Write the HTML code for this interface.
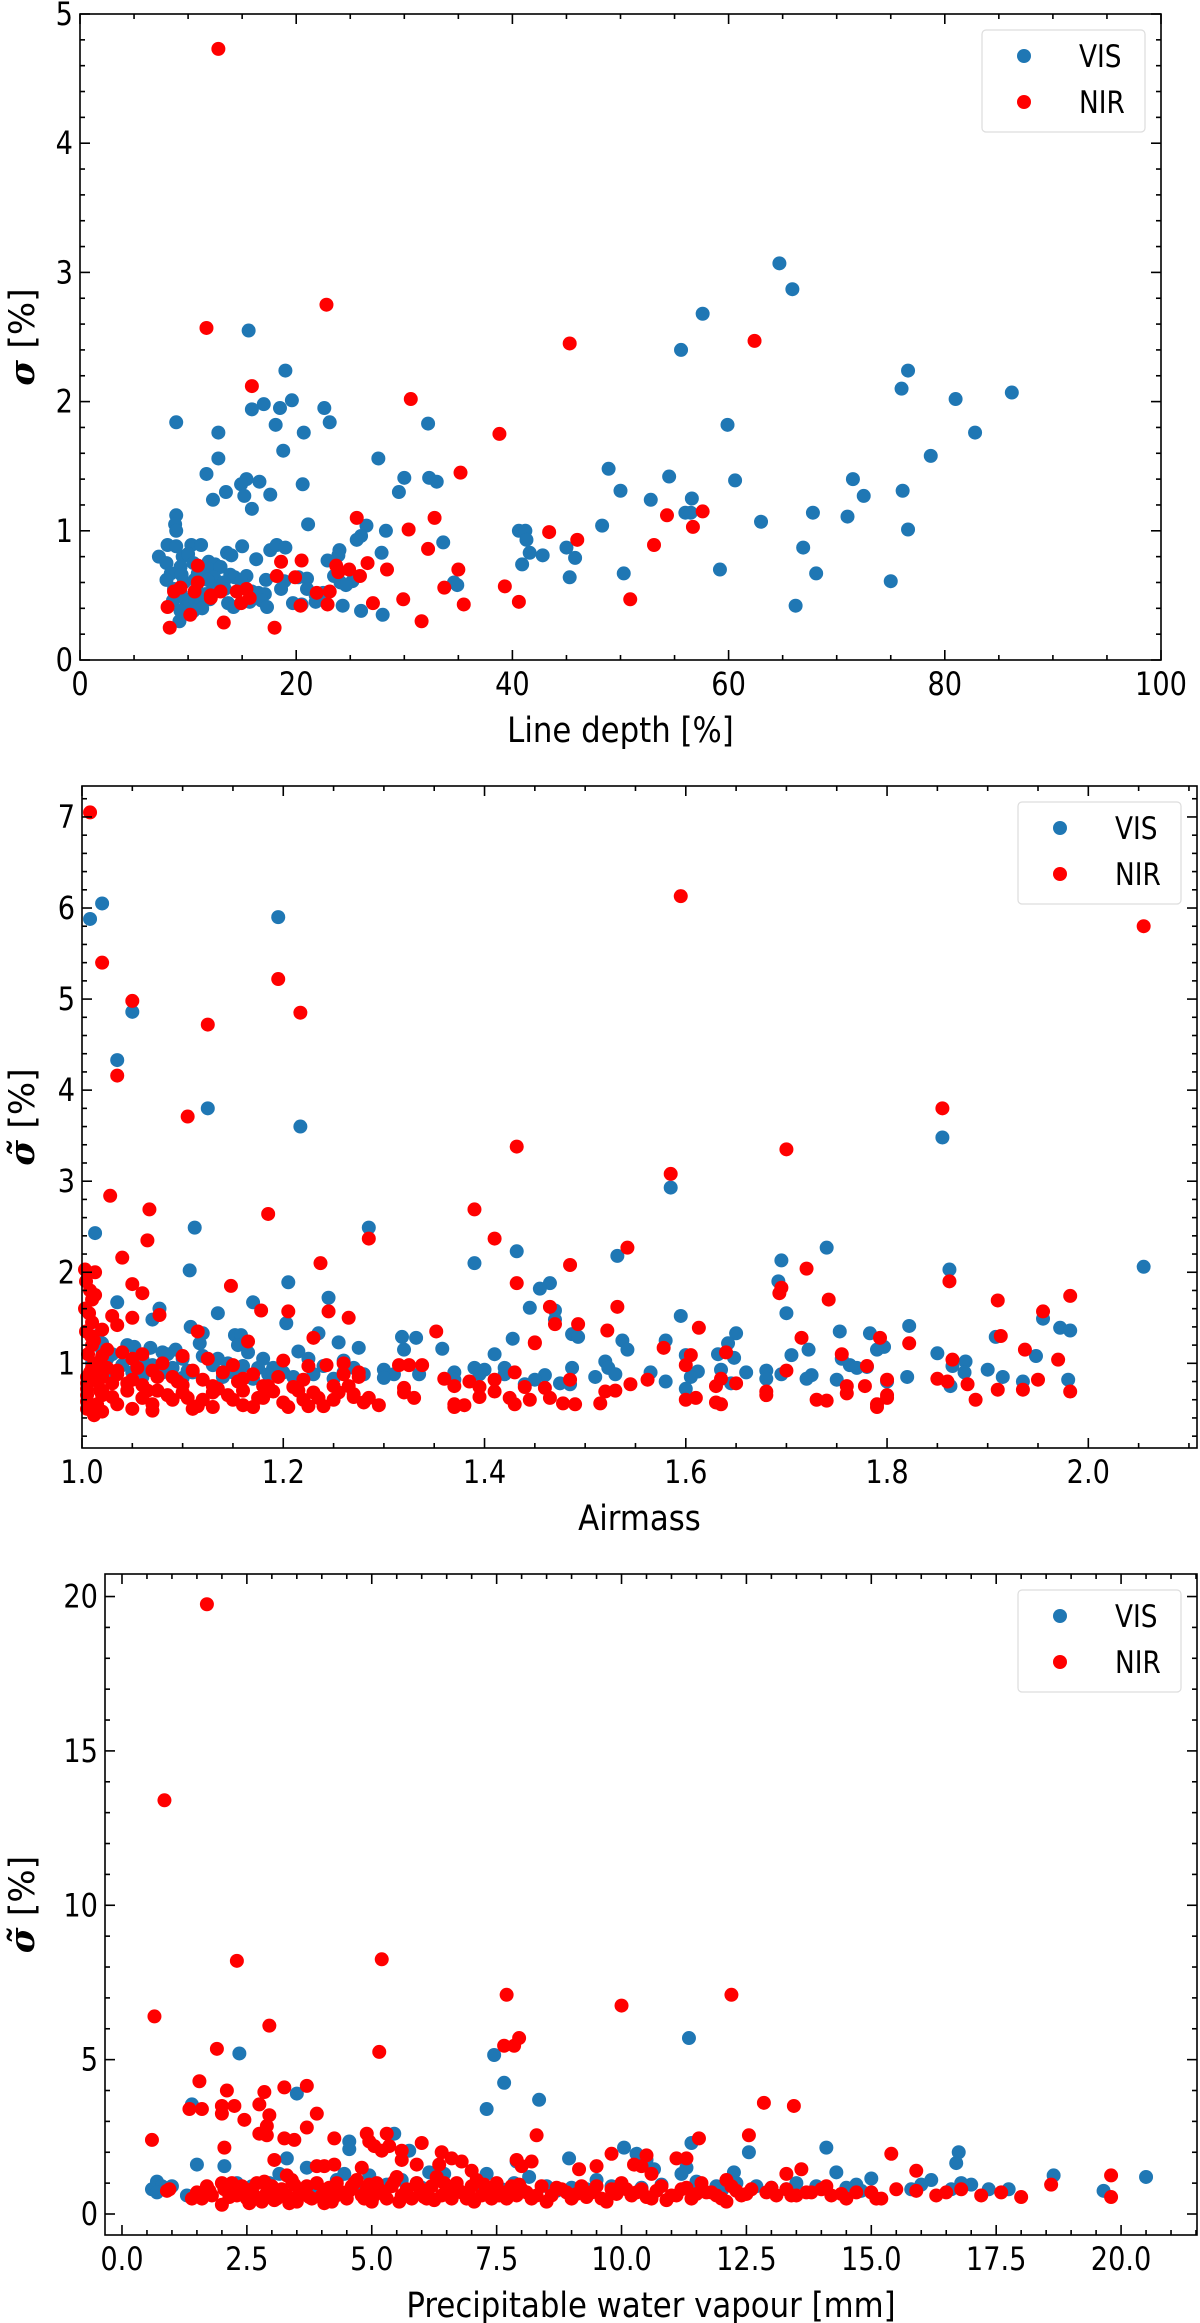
<!DOCTYPE html>
<html><head><meta charset="utf-8">
<style>
html,body{margin:0;padding:0;background:#fff;}
svg{display:block;font-family:"DejaVu Sans","Liberation Sans",sans-serif;}
</style></head>
<body>
<svg id="fig" width="1200" height="2323" viewBox="0 0 1200 2323" xmlns="http://www.w3.org/2000/svg"></svg>
<script>
// ---------- Panel 1: Line depth ----------
const p1VisX=[64.7,65.9,57.6,55.6,15.6,19.0,76.6,76.0,81.0,86.2,19.6,17.0,15.9,18.5,22.6,8.9,18.1,23.1,32.2,59.9,12.8,20.7,82.8,18.8,78.7,12.8,27.6,11.7,48.9,54.5,15.4,16.6,14.9,20.6,30.0,32.3,33.0,60.6,71.5,13.5,17.6,15.2,29.5,50.0,72.5,76.1,12.3,52.8,56.6,15.9,56.0,56.5,67.8,71.0,8.9,8.8,21.1,26.5,48.3,63.0,8.9,28.3,40.6,41.2,76.6,26.0,25.6,33.6,41.3,8.1,10.3,11.2,15.0,17.6,18.2,19.0,24.0,8.9,13.6,14.0,27.9,41.6,42.8,45.0,66.9,7.3,9.5,10.0,16.3,23.9,22.9,45.8,40.9,8.0,9.3,10.5,11.9,12.5,12.0,13.0,8.4,9.4,10.9,12.4,13.9,14.3,15.4,20.2,21.0,23.5,59.2,50.3,68.1,8.0,9.6,10.6,11.8,13.3,14.9,17.2,18.9,24.1,25.2,34.6,34.9,45.3,75.0,8.7,9.3,10.8,11.6,12.3,13.4,15.9,16.5,17.1,18.6,21.0,21.8,22.5,24.6,8.6,9.7,10.0,10.7,11.2,12.0,13.7,14.2,15.7,16.8,17.3,19.7,21.8,24.3,9.2,9.3,10.5,11.3,26.0,28.0,66.2,20.5,22.3];
const p1VisY=[3.07,2.87,2.68,2.40,2.55,2.24,2.24,2.10,2.02,2.07,2.01,1.98,1.94,1.95,1.95,1.84,1.82,1.84,1.83,1.82,1.76,1.76,1.76,1.62,1.58,1.56,1.56,1.44,1.48,1.42,1.40,1.38,1.36,1.36,1.41,1.41,1.38,1.39,1.40,1.30,1.28,1.27,1.30,1.31,1.27,1.31,1.24,1.24,1.25,1.17,1.14,1.14,1.14,1.11,1.12,1.05,1.05,1.04,1.04,1.07,1.00,1.00,1.00,1.00,1.01,0.96,0.93,0.91,0.93,0.89,0.89,0.89,0.88,0.85,0.89,0.87,0.85,0.88,0.83,0.81,0.83,0.83,0.81,0.87,0.87,0.80,0.80,0.82,0.78,0.81,0.77,0.79,0.74,0.75,0.72,0.75,0.76,0.74,0.70,0.72,0.67,0.66,0.67,0.64,0.66,0.64,0.65,0.64,0.63,0.65,0.70,0.67,0.67,0.62,0.60,0.62,0.62,0.60,0.61,0.62,0.61,0.60,0.61,0.60,0.58,0.64,0.61,0.55,0.52,0.54,0.51,0.55,0.55,0.53,0.52,0.51,0.55,0.55,0.50,0.52,0.58,0.46,0.47,0.43,0.46,0.44,0.47,0.44,0.41,0.45,0.46,0.41,0.44,0.45,0.42,0.30,0.38,0.38,0.40,0.38,0.35,0.42,0.43,0.47];
const p1NirX=[12.8,22.8,11.7,45.3,62.4,15.9,30.6,38.8,35.2,25.6,32.8,54.3,57.6,56.7,30.4,43.4,46.0,53.1,32.2,18.6,20.5,26.6,10.9,23.7,24.9,23.9,28.4,35.0,18.2,19.9,25.9,10.9,21.9,23.1,8.7,9.3,10.6,12.1,13.0,14.5,15.4,15.7,14.9,12.1,33.7,39.3,8.1,20.4,22.9,27.1,29.9,35.5,40.6,50.9,10.2,13.3,8.3,18.0,31.6];
const p1NirY=[4.73,2.75,2.57,2.45,2.47,2.12,2.02,1.75,1.45,1.10,1.10,1.12,1.15,1.03,1.01,0.99,0.93,0.89,0.86,0.76,0.77,0.75,0.73,0.73,0.70,0.68,0.70,0.70,0.65,0.64,0.65,0.60,0.52,0.53,0.53,0.56,0.53,0.50,0.53,0.53,0.55,0.48,0.44,0.48,0.56,0.57,0.41,0.42,0.43,0.44,0.47,0.43,0.45,0.47,0.35,0.29,0.25,0.25,0.30];
const p1XTicks=[0,20,40,60,80,100];
const p1YTicks=[0,1,2,3,4,5];

// ---------- Panel 2: Airmass ----------
const p2VisX=[1.008,1.02,1.195,1.05,1.035,1.125,1.217,1.855,1.585,1.013,1.112,1.285,1.74,1.432,1.532,1.695,1.39,1.107,1.862,2.055,1.205,1.692,1.465,1.455,1.035,1.17,1.245,1.077,1.445,1.47,1.135,1.07,1.7,1.595,1.955,1.108,1.203,1.47,1.753,1.783,1.822,1.972,1.982,1.65,1.642,1.12,1.152,1.158,1.235,1.318,1.332,1.487,1.493,1.58,1.537,1.428,1.358,1.02,1.052,1.068,1.093,1.117,1.155,1.255,1.275,1.32,1.542,1.797,1.79,1.908,1.85,1.02,1.03,1.08,1.12,1.165,1.215,1.41,1.705,1.722,1.632,1.648,1.948,1.06,1.1,1.135,1.18,1.225,1.26,1.52,1.6,1.755,1.763,1.878,1.01,1.04,1.07,1.09,1.13,1.16,1.19,1.24,1.27,1.3,1.39,1.4,1.42,1.487,1.523,1.612,1.635,1.68,1.77,1.78,1.865,1.9,1.01,1.05,1.08,1.11,1.15,1.2,1.23,1.26,1.28,1.31,1.335,1.37,1.395,1.42,1.46,1.53,1.565,1.605,1.66,1.695,1.725,1.75,1.82,1.877,1.915,1.03,1.06,1.1,1.14,1.17,1.21,1.25,1.3,1.45,1.51,1.58,1.68,1.72,1.8,1.98,1.44,1.475,1.485,1.6,1.645,1.863,1.935,1.37,1.015,1.025,1.045,1.065,1.085,1.105,1.145,1.175,1.185];
const p2VisY=[5.88,6.05,5.9,4.86,4.33,3.8,3.6,3.48,2.93,2.43,2.49,2.49,2.27,2.23,2.18,2.13,2.1,2.02,2.03,2.06,1.89,1.9,1.88,1.82,1.67,1.67,1.72,1.6,1.61,1.58,1.55,1.48,1.55,1.52,1.49,1.4,1.44,1.48,1.35,1.33,1.41,1.39,1.36,1.33,1.22,1.33,1.31,1.31,1.33,1.29,1.28,1.32,1.29,1.25,1.25,1.27,1.16,1.22,1.18,1.17,1.15,1.22,1.2,1.23,1.17,1.15,1.15,1.18,1.15,1.29,1.11,1.15,1.1,1.12,1.08,1.12,1.13,1.1,1.09,1.15,1.1,1.06,1.08,1.05,1.05,1.05,1.05,1.05,1.03,1.02,1.09,1.05,0.98,1.02,1.0,0.98,0.98,0.95,0.98,0.97,0.95,0.97,0.95,0.93,0.95,0.93,0.95,0.95,0.95,0.91,0.93,0.92,0.95,0.96,0.97,0.93,0.92,0.9,0.9,0.9,0.9,0.9,0.88,0.9,0.88,0.88,0.88,0.9,0.88,0.88,0.87,0.88,0.9,0.85,0.9,0.88,0.87,0.82,0.85,0.9,0.85,0.85,0.85,0.84,0.85,0.83,0.85,0.83,0.84,0.82,0.85,0.8,0.83,0.83,0.8,0.82,0.77,0.78,0.77,0.72,0.78,0.75,0.8,0.82,1.3,1.05,1.2,0.95,1.1,0.92,1.0,0.95,0.88];
const p2NirX=[1.008,1.595,2.055,1.02,1.195,1.05,1.217,1.125,1.035,1.855,1.105,1.432,1.7,1.585,1.028,1.067,1.39,1.185,1.41,1.285,1.065,1.542,1.04,1.237,1.485,1.72,1.003,1.013,1.432,1.862,1.05,1.148,1.695,1.693,1.06,1.008,1.013,1.742,1.91,1.982,1.178,1.205,1.245,1.532,1.465,1.955,1.077,1.03,1.05,1.265,1.47,1.493,1.613,1.115,1.352,1.522,1.02,1.01,1.035,1.793,1.913,1.23,1.165,1.45,1.45,1.715,1.822,1.578,1.937,1.755,1.64,1.605,1.865,1.97,1.01,1.025,1.04,1.06,1.1,1.125,1.2,1.26,1.02,1.05,1.08,1.15,1.225,1.243,1.315,1.325,1.338,1.6,1.78,1.7,1.01,1.035,1.07,1.11,1.14,1.17,1.195,1.26,1.275,1.43,1.005,1.02,1.05,1.09,1.12,1.16,1.22,1.275,1.36,1.385,1.41,1.485,1.562,1.635,1.65,1.85,1.8,1.86,1.95,1.005,1.03,1.06,1.1,1.13,1.18,1.21,1.25,1.32,1.37,1.395,1.44,1.46,1.545,1.63,1.76,1.778,1.88,1.005,1.02,1.045,1.075,1.1,1.13,1.16,1.19,1.23,1.27,1.32,1.41,1.52,1.53,1.68,1.76,1.8,1.91,1.935,1.982,1.005,1.03,1.06,1.09,1.12,1.15,1.18,1.22,1.25,1.27,1.33,1.395,1.425,1.445,1.465,1.61,1.6,1.68,1.73,1.8,1.888,1.005,1.015,1.035,1.07,1.115,1.16,1.2,1.225,1.24,1.28,1.295,1.37,1.38,1.43,1.478,1.49,1.515,1.63,1.74,1.79,1.005,1.012,1.02,1.05,1.07,1.11,1.13,1.17,1.205,1.37,1.635,1.79,1.003,1.004,1.006,1.008,1.01,1.012,1.015,1.018,1.004,1.007,1.009,1.012,1.016,1.02,1.025,1.035,1.045,1.055,1.065,1.075,1.085,1.095,1.105,1.135,1.145,1.155,1.175,1.185,1.215,1.235,1.255,1.265,1.285];
const p2NirY=[7.05,6.13,5.8,5.4,5.22,4.98,4.85,4.72,4.16,3.8,3.71,3.38,3.35,3.08,2.84,2.69,2.69,2.64,2.37,2.37,2.35,2.27,2.16,2.1,2.08,2.04,2.03,2.0,1.88,1.9,1.87,1.85,1.83,1.77,1.77,1.8,1.75,1.7,1.69,1.74,1.58,1.57,1.57,1.62,1.62,1.57,1.53,1.52,1.5,1.5,1.43,1.43,1.39,1.35,1.35,1.36,1.37,1.45,1.42,1.28,1.3,1.28,1.24,1.23,1.22,1.28,1.22,1.17,1.15,1.1,1.12,1.09,1.04,1.04,1.2,1.15,1.12,1.1,1.08,1.05,1.03,1.0,1.08,1.05,1.0,0.98,0.97,0.98,0.98,0.98,0.98,0.98,0.97,0.92,0.95,0.92,0.92,0.92,0.9,0.88,0.85,0.88,0.9,0.9,0.85,0.85,0.82,0.85,0.82,0.83,0.82,0.85,0.83,0.8,0.82,0.82,0.82,0.83,0.78,0.83,0.82,0.8,0.82,0.78,0.78,0.76,0.76,0.75,0.75,0.74,0.75,0.73,0.75,0.74,0.74,0.73,0.77,0.75,0.75,0.75,0.77,0.72,0.7,0.7,0.7,0.68,0.68,0.7,0.69,0.68,0.66,0.68,0.69,0.69,0.7,0.69,0.67,0.65,0.71,0.71,0.69,0.65,0.63,0.62,0.6,0.6,0.6,0.62,0.6,0.6,0.63,0.62,0.63,0.62,0.6,0.62,0.62,0.6,0.65,0.6,0.62,0.6,0.58,0.55,0.55,0.55,0.53,0.54,0.57,0.53,0.53,0.57,0.54,0.55,0.54,0.55,0.56,0.55,0.56,0.57,0.59,0.55,0.5,0.43,0.47,0.5,0.48,0.5,0.52,0.52,0.52,0.52,0.55,0.52,1.6,1.35,1.1,0.9,1.7,1.25,0.95,0.7,1.9,1.55,1.3,1.0,0.8,0.65,0.95,0.88,0.78,0.95,0.7,0.85,0.65,0.8,0.62,0.72,0.65,0.8,0.62,0.75,0.7,0.62,0.68,0.75,0.62];
const p2XTicks=[1.0,1.2,1.4,1.6,1.8,2.0];
const p2YTicks=[1,2,3,4,5,6,7];

// ---------- Panel 3: PWV ----------
const p3VisX=[20.5,19.65,18.65,17.75,17.35,17.0,16.7,16.75,16.8,16.2,16.0,15.0,14.7,14.1,14.3,13.5,12.55,12.7,12.25,11.35,11.4,11.3,11.2,10.65,10.05,10.3,10.5,8.95,8.35,7.45,7.3,7.65,7.9,8.15,5.45,4.55,4.55,5.75,3.5,2.35,1.4,1.5,2.05,3.3,0.6,0.7,0.8,1.0,0.7,1.7,2.95,3.15,3.7,4.45,4.95,5.6,6.15,6.45,7.3,7.85,9.5,10.8,11.5,12.3,13.0,13.9,14.5,15.8,2.3,2.6,3.9,4.7,5.3,6.0,6.7,7.1,8.5,9.0,9.8,10.4,11.9,1.3,4.3,5.9,7.6,8.7,9.3,12.0,13.3,14.8,16.6];
const p3VisY=[1.2,0.75,1.25,0.8,0.8,0.95,1.65,2.0,1.0,1.1,0.95,1.15,0.95,2.15,1.35,1.0,2.0,0.9,1.35,5.7,2.3,1.5,1.3,1.45,2.15,1.95,1.75,1.8,3.7,5.15,3.4,4.25,1.7,1.2,2.6,2.35,2.1,2.05,3.9,5.2,3.55,1.6,1.55,1.8,0.8,1.05,0.9,0.9,0.7,0.85,1.0,1.3,1.5,1.3,1.25,1.1,1.35,1.3,1.3,1.0,1.1,0.95,1.05,1.0,0.85,0.9,0.85,0.8,1.0,0.9,0.8,0.9,0.95,0.85,0.9,0.95,0.9,0.85,0.9,0.85,0.9,0.6,1.1,1.0,0.8,0.75,0.8,0.75,0.8,0.75,0.8];
const p3NirX=[1.7,0.85,2.3,5.2,7.7,12.2,10.0,0.65,2.95,7.95,7.85,7.65,1.9,5.15,1.55,3.7,3.25,2.1,2.85,2.25,2.0,1.6,1.35,2.75,2.95,12.85,13.45,2.0,2.45,3.9,2.9,3.7,2.75,2.9,3.25,3.45,4.25,0.6,4.9,5.3,8.3,12.55,11.55,4.95,5.05,5.35,6.0,5.6,5.2,6.4,15.4,2.05,6.6,6.8,7.9,9.8,10.5,11.3,11.1,3.05,5.6,5.9,6.35,8.2,10.25,10.4,4.25,3.9,4.05,4.8,7.0,8.0,15.9,13.6,9.5,9.15,10.6,12.1,13.3,3.3,2.0,18.6,19.8,0.9,0.95,1.4,1.5,1.7,1.8,2.0,2.05,2.2,2.3,2.4,2.5,2.6,2.7,2.8,2.9,3.0,3.1,3.2,3.3,3.4,3.5,3.6,3.7,3.8,3.9,4.0,4.1,4.2,4.3,4.4,4.5,4.6,4.7,4.8,4.9,5.0,5.1,5.2,5.3,5.4,5.5,5.6,5.7,5.8,5.9,6.0,6.1,6.2,6.3,6.4,6.5,6.6,6.7,6.8,6.9,7.0,7.1,7.2,7.3,7.4,7.5,7.6,7.7,7.8,7.9,8.0,8.2,8.4,8.6,8.8,9.0,9.2,9.4,9.6,9.8,10.0,10.2,10.4,10.6,10.8,11.0,11.2,11.4,11.6,11.8,12.0,12.2,12.4,12.6,12.9,13.1,13.3,13.5,13.8,14.0,14.2,14.5,14.7,15.0,15.1,15.2,15.5,15.9,16.3,16.5,16.8,17.2,17.6,18.0,19.8,1.6,2.15,2.55,3.05,3.55,4.05,4.55,5.05,5.55,6.05,6.55,7.05,7.55,8.1,8.5,9.1,9.7,10.3,10.9,11.5,12.1,2.45,3.35,4.25,4.95,6.25,7.25,1.75,2.25,2.65,2.85,3.15,3.45,3.75,4.15,4.35,4.65,4.85,5.15,5.45,5.65,5.95,6.15,6.45,6.75,6.95,7.35,7.65,7.95,8.3,8.7,8.9,9.3,9.5,9.9,10.1,10.5,10.7,11.1,11.3,11.7,11.9,12.3,12.5,13.0,13.4,13.7,14.1,14.4];
const p3NirY=[19.75,13.4,8.2,8.25,7.1,7.1,6.75,6.4,6.1,5.7,5.45,5.45,5.35,5.25,4.3,4.15,4.1,4.0,3.95,3.5,3.5,3.4,3.4,3.55,3.2,3.6,3.5,3.25,3.05,3.25,2.85,2.8,2.6,2.55,2.45,2.4,2.45,2.4,2.6,2.6,2.55,2.55,2.45,2.35,2.2,2.2,2.3,2.05,2.05,2.0,1.95,2.15,1.8,1.7,1.75,1.95,1.9,1.8,1.8,1.75,1.75,1.6,1.6,1.7,1.6,1.55,1.6,1.55,1.55,1.5,1.4,1.55,1.4,1.45,1.55,1.45,1.3,1.1,1.3,1.25,1.0,0.95,1.25,0.75,0.8,0.5,0.7,0.9,0.6,0.3,0.8,1.0,0.6,0.9,0.5,0.8,1.0,0.4,0.7,0.9,0.5,0.8,0.6,1.1,0.4,0.7,0.9,0.5,1.0,0.6,0.8,0.4,1.0,0.7,0.5,0.9,1.1,0.6,0.8,0.4,1.0,0.7,0.5,0.9,1.2,0.6,0.8,0.5,1.0,0.7,0.5,0.9,1.2,0.6,0.8,0.5,1.0,0.7,0.5,0.9,1.1,0.6,0.8,0.5,1.0,0.7,0.5,0.9,0.6,0.8,0.5,0.9,0.6,0.8,0.5,0.9,0.7,0.5,0.8,1.0,0.6,0.8,0.5,0.9,0.6,0.8,0.5,1.0,0.7,0.5,0.9,0.6,0.8,0.7,0.6,0.8,0.6,0.7,0.8,0.6,0.5,0.7,0.7,0.5,0.5,0.8,0.75,0.6,0.7,0.8,0.6,0.7,0.55,0.55,0.5,0.55,0.35,0.45,0.65,0.35,0.75,0.6,0.4,0.55,0.65,0.4,0.6,0.7,0.4,0.65,0.4,0.7,0.45,0.65,0.4,0.7,0.35,0.55,0.95,0.45,0.95,0.75,0.85,0.6,1.05,0.7,0.95,0.55,0.85,0.65,1.0,0.5,0.8,1.05,0.65,0.85,0.55,1.0,0.75,0.6,0.85,0.7,0.95,0.6,0.85,0.7,0.55,0.9,0.65,0.8,0.55,0.75,0.6,0.85,0.7,0.6,0.75,0.65,0.85,0.6,0.7,0.9,0.65];
const p3XTicks=[0,2.5,5,7.5,10,12.5,15,17.5,20];
const p3XTickLabels=["0.0","2.5","5.0","7.5","10.0","12.5","15.0","17.5","20.0"];
const p3YTicks=[0,5,10,15,20];

const NS="http://www.w3.org/2000/svg";
const fig=document.getElementById('fig');
const BLUE="#1f77b4", RED="#ff0000";
const R=7;
function mk(tag,attrs,parent){const e=document.createElementNS(NS,tag);for(const k in attrs)e.setAttribute(k,attrs[k]);(parent||fig).appendChild(e);return e;}

function panel(c){
  const g=mk('g',{});
  
  
  const sx=v=>c.L+(v-c.x0)/(c.x1-c.x0)*(c.R-c.L);
  const sy=v=>c.B-(v-c.y0)/(c.y1-c.y0)*(c.B-c.T);
  const gv=mk('g',{fill:BLUE},g);
  
  
  const nv=Math.min(c.vx.length,c.vy.length);
  for(let i=0;i<nv;i++){const p=mk('circle',{cx:sx(c.vx[i]),cy:sy(c.vy[i]),r:R},gv);
    
    }
  const gn=mk('g',{fill:RED},g);
  
  
  const nn=Math.min(c.nx.length,c.ny.length);
  for(let i=0;i<nn;i++){const p=mk('circle',{cx:sx(c.nx[i]),cy:sy(c.ny[i]),r:R},gn);
    
    }
  const fr=mk('rect',{x:c.L,y:c.T,width:c.R-c.L,height:c.B-c.T,fill:'none',stroke:'#000','stroke-width':1.6},g);
  
  
  const tg=mk('g',{stroke:'#000','stroke-width':1.6},g);
  
  
  const eps=1e-9;
  for(let v=Math.ceil((c.x0-eps)/c.xm)*c.xm; v<=c.x1+eps; v+=c.xm){
    const major=Math.abs(v/c.xM-Math.round(v/c.xM))<1e-6; const len=major?10:5; const x=sx(v);
    mk('line',{x1:x,y1:c.B,x2:x,y2:c.B-len},tg); mk('line',{x1:x,y1:c.T,x2:x,y2:c.T+len},tg);}
  for(let v=Math.ceil((c.y0-eps)/c.ym)*c.ym; v<=c.y1+eps; v+=c.ym){
    const major=Math.abs(v/c.yM-Math.round(v/c.yM))<1e-6; const len=major?10:5; const y=sy(v);
    mk('line',{x1:c.L,y1:y,x2:c.L+len,y2:y},tg); mk('line',{x1:c.R,y1:y,x2:c.R-len,y2:y},tg);}
  c.xt.forEach((v,i)=>{const t=mk('text',{x:sx(v),y:c.B+35,'text-anchor':'middle','font-size':32,transform:`translate(${sx(v)},0) scale(0.85,1) translate(${-sx(v)},0)`},g);
    t.textContent=c.xtl?c.xtl[i]:String(v);
    
    });
  c.yt.forEach(v=>{const x=c.L-7;const t=mk('text',{x:x,y:sy(v)+11,'text-anchor':'end','font-size':32,transform:`translate(${x},0) scale(0.85,1) translate(${-x},0)`},g);
    t.textContent=String(v);
    
    });
  const cx=(c.L+c.R)/2;
  const xl=mk('text',{x:cx,y:c.B+82,'text-anchor':'middle','font-size':35,transform:`translate(${cx},0) scale(0.88,1) translate(${-cx},0)`},g);
  xl.textContent=c.xlabel;
  
  
  const cy=(c.T+c.B)/2;
  const yl=mk('text',{x:0,y:0,'text-anchor':'middle','font-size':35,transform:`translate(${c.ylx},${cy}) rotate(-90)`},g);
  const s=mk('tspan',{'font-style':'italic','font-family':'"DejaVu Serif",serif','font-weight':'bold'},yl); s.textContent=c.sig;
  const r=mk('tspan',{},yl); r.textContent=' [%]';
  
  
  const lg=mk('g',{},g);
  
  
  mk('rect',{x:c.lgx,y:c.lgy,width:163,height:102,rx:4,fill:'#fff',stroke:'#ddd','stroke-width':1.2},lg);
  [['VIS',BLUE,26],['NIR',RED,72]].forEach(([lab,col,dy])=>{
    const e=mk('g',{},lg);
    
    
    mk('circle',{cx:c.lgx+42,cy:c.lgy+dy,r:R,fill:col},e);
    const tx=c.lgx+97;
    const t=mk('text',{x:tx,y:c.lgy+dy+11,'font-size':31,transform:`translate(${tx},0) scale(0.85,1) translate(${-tx},0)`},e); t.textContent=lab;});
}

panel({name:'line-depth-chart',L:80,R:1161,T:14,B:660,x0:0,x1:100,y0:0,y1:5,xM:20,xm:5,yM:1,ym:0.2,
  xt:p1XTicks,yt:p1YTicks,vx:p1VisX,vy:p1VisY,nx:p1NirX,ny:p1NirY,xlabel:'Line depth [%]',sig:'σ',ylx:34,lgx:982,lgy:30});
panel({name:'airmass-chart',L:82,R:1197,T:786,B:1448,x0:1.0,x1:2.108,y0:0.07,y1:7.34,xM:0.2,xm:0.05,yM:1,ym:0.2,
  xt:p2XTicks,xtl:p2XTicks.map(v=>v.toFixed(1)),yt:p2YTicks,vx:p2VisX,vy:p2VisY,nx:p2NirX,ny:p2NirY,xlabel:'Airmass',sig:'σ̃',ylx:34,lgx:1018,lgy:802});
panel({name:'pwv-chart',L:105,R:1197,T:1574,B:2235,x0:-0.34,x1:21.52,y0:-0.68,y1:20.73,xM:2.5,xm:0.5,yM:5,ym:1,
  xt:p3XTicks,xtl:p3XTickLabels,yt:p3YTicks,vx:p3VisX,vy:p3VisY,nx:p3NirX,ny:p3NirY,xlabel:'Precipitable water vapour [mm]',sig:'σ̃',ylx:34,lgx:1018,lgy:1590});
</script>
</body></html>
